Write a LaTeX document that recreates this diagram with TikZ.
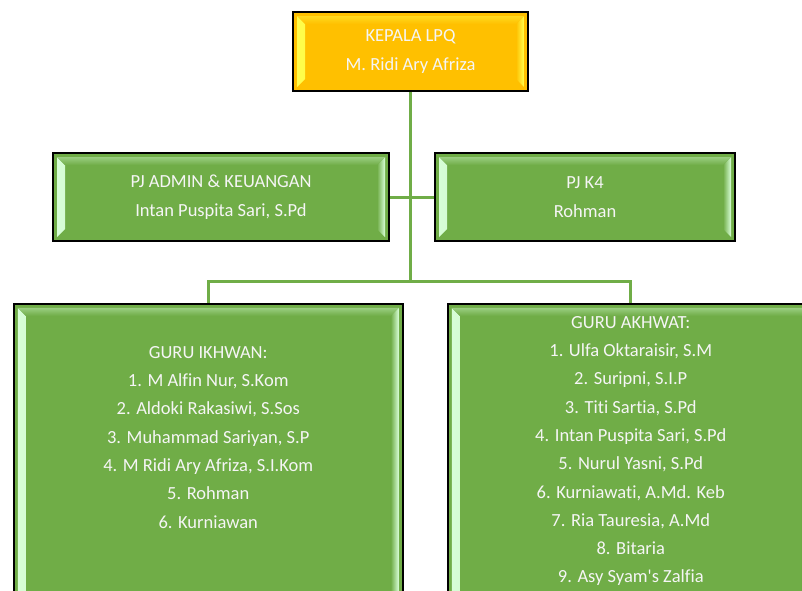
\documentclass[tikz,border=0pt]{standalone}
\usepackage{fontspec}
\setmainfont{Carlito}[Ligatures={NoCommon,TeXOff}]
\usetikzlibrary{calc,positioning}

\definecolor{boxgreen}{HTML}{70AD47}
\definecolor{boxgold}{HTML}{FFC000}
\definecolor{boxtext}{HTML}{F5F5F5}

\tikzset{
  bevel/.style 2 args={fill=#1, path picture={
      \shade[left color=#2, right color=#1]
        ($(path picture bounding box.north west)+(4,4)$) -- ++(8,8)
        -- ($(path picture bounding box.south west)+(12,-12)$) -- ++(-8,8) -- cycle;
      \shade[left color=#1, right color=#2]
        ($(path picture bounding box.north east)+(-4,4)$) -- ++(-8,8)
        -- ($(path picture bounding box.south east)+(-12,-12)$) -- ++(8,8) -- cycle;
      \shade[top color=#2!40!#1, bottom color=#1]
        ($(path picture bounding box.north west)+(4,4)$)
        -- ($(path picture bounding box.north east)+(-4,4)$) -- ++(-8,8)
        -- ($(path picture bounding box.north west)+(12,12)$) -- cycle;
  }},
  box/.style={draw=black, line width=1.5, rectangle, inner sep=0,
    text=boxtext, align=center, font=\fontsize{18.5}{29}\selectfont},
  greenbox/.style={box, bevel={boxgreen}{green!15!white}},
  goldbox/.style={box, bevel={boxgold}{yellow!70!white}},
  listtext/.style={text=boxtext, align=center, inner sep=0,
    font=\fontsize{18.5}{28.3}\selectfont},
  conn/.style={draw=boxgreen, line width=3},
}

\begin{document}
\begin{tikzpicture}[x=1pt,y=-1pt]
  \clip (0,0) rectangle (802,590);
  \fill[white] (0,0) rectangle (802,590);

  % boxes
  \node[goldbox, minimum width=235, minimum height=79] (kepala) at (410.5,51.5)
    {KEPALA LPQ\\M. Ridi Ary Afriza};
  \node[greenbox, minimum width=336, minimum height=88] (admin) at (221,197)
    {PJ ADMIN \& KEUANGAN\\Intan Puspita Sari, S.Pd};
  \node[greenbox, minimum width=300, minimum height=88] (k4) at (585,197)
    {PJ K4\\Rohman};
  \node[greenbox, anchor=north west, minimum width=389, minimum height=330] (ikhwan) at (13,303) {};
  \node[greenbox, anchor=north west, minimum width=366, minimum height=330] (akhwat) at (447,303) {};

  \node[listtext, anchor=north, below=43pt of ikhwan.north] (ikhwanlist)
    {GURU IKHWAN:\\1. M Alfin Nur, S.Kom\\2. Aldoki Rakasiwi, S.Sos\\3. Muhammad Sariyan, S.P\\
     4. M Ridi Ary Afriza, S.I.Kom\\5. Rohman\\6. Kurniawan};
  \node[listtext, anchor=north, below=13pt of akhwat.north] (akhwatlist)
    {GURU AKHWAT:\\1. Ulfa Oktaraisir, S.M\\2. Suripni, S.I.P\\3. Titi Sartia, S.Pd\\
     4. Intan Puspita Sari, S.Pd\\5. Nurul Yasni, S.Pd\\6. Kurniawati, A.Md. Keb\\
     7. Ria Tauresia, A.Md\\8. Bitaria\\9. Asy Syam's Zalfia};

  % connectors
  \coordinate (hub) at (kepala.south |- 0,281);
  \draw[conn] (kepala.south) -- (hub);
  \draw[conn] (admin.east) -- (k4.west);
  \draw[conn] (hub) -| (ikhwan.north);
  \draw[conn] (hub) -| (akhwat.north);
\end{tikzpicture}
\end{document}
